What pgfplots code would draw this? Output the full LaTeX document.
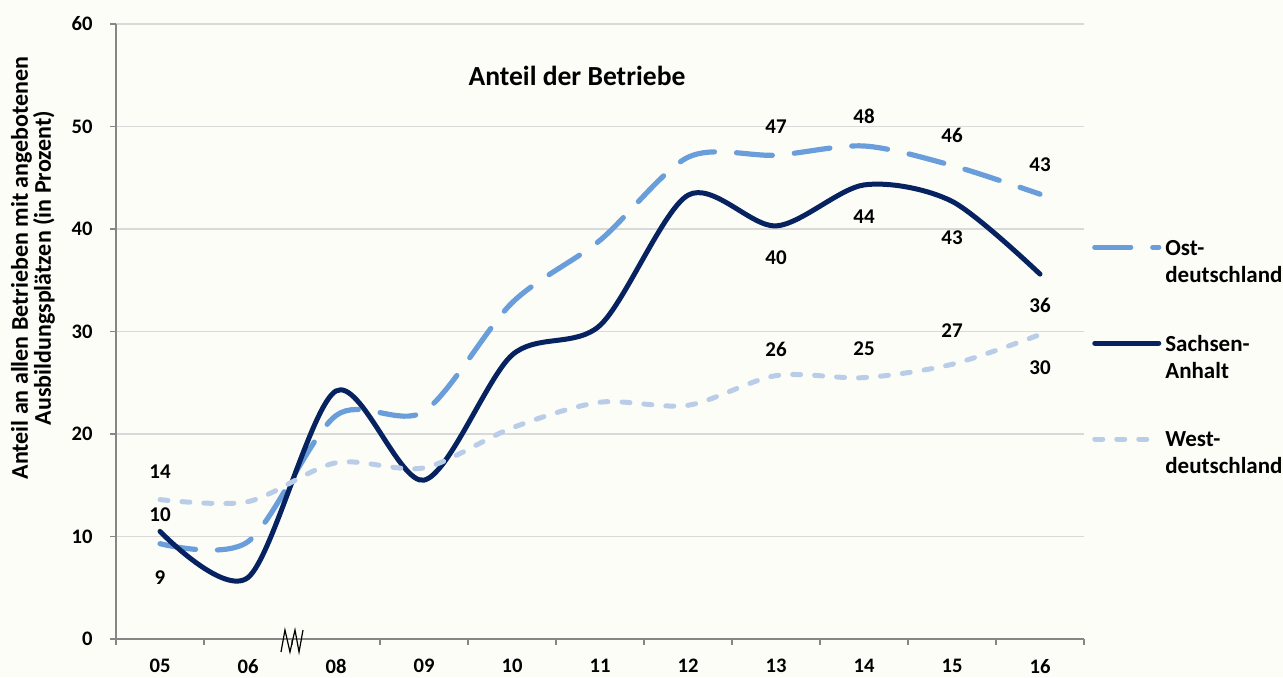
\documentclass[border=0pt]{standalone}
\usepackage{pgfplots}
\pgfplotsset{compat=1.18}
\usepackage{fontspec}
\setmainfont{Carlito}
\definecolor{bg}{RGB}{253,253,248}
\definecolor{ost}{RGB}{106,158,218}
\definecolor{sa}{RGB}{6,34,96}
\definecolor{west}{RGB}{186,205,232}
\definecolor{gridc}{RGB}{217,217,217}
\definecolor{axc}{RGB}{134,134,134}
\begin{document}
\begin{tikzpicture}
\fill[bg] (0,0) rectangle (641.5pt,338.5pt);
\begin{axis}[
  at={(58pt,19pt)}, anchor=south west,
  scale only axis, width=484pt, height=307.5pt,
  xmin=-0.5, xmax=10.5, ymin=0, ymax=60,
  axis lines*=left,
  axis line style={axc, line width=0.8pt},
  xtick={0,...,10}, xticklabels={05,06,08,09,10,11,12,13,14,15,16},
  minor xtick={-0.5,0.5,...,10.5},
  ytick={0,10,...,60}, yticklabels={0,10,20,30,40,50,60},
  tick align=outside,
  major x tick style={draw=none},
  minor tick length=3pt, major tick length=3pt,
  tick style={axc, line width=0.8pt},
  ymajorgrids, grid style={gridc, line width=0.8pt},
  ticklabel style={font=\fontsize{10.3}{12}\selectfont\bfseries},
  xticklabel style={yshift=-3.5pt},
  every y tick label/.append style={anchor=east, inner sep=0pt, xshift=-8.5pt},
  clip=false,
  legend image code/.code={\draw[#1] (0pt,0pt) -- (32pt,0pt);},
  legend style={at={(rel axis cs:1.008,0.662)}, anchor=north west, draw=none, fill=none,
    font=\fontsize{11.5}{13.5}\selectfont\bfseries, cells={anchor=west}, row sep=33pt,
    inner sep=0pt},
]
\addplot[ost, line width=2.6pt, smooth, line cap=round, dash pattern=on 18pt off 11pt]
  coordinates {(0,9.3) (1,9.5) (2,21.8) (3,22.2) (4,32.8) (5,38.9) (6,47.0) (7,47.2) (8,48.1) (9,46.2) (10,43.4)};
\addlegendentry{\vtop{\hbox{\strut Ost-}\hbox{\strut deutschland}}}
\addplot[sa, line width=2.5pt, smooth, line cap=round]
  coordinates {(0,10.5) (1,6.0) (2,24.2) (3,15.5) (4,27.7) (5,30.6) (6,43.3) (7,40.3) (8,44.3) (9,42.7) (10,35.6)};
\addlegendentry{\vtop{\hbox{\strut Sachsen-}\hbox{\strut Anhalt}}}
\addplot[west, line width=2.5pt, smooth, line cap=round, dash pattern=on 4pt off 7pt]
  coordinates {(0,13.6) (1,13.4) (2,17.2) (3,16.7) (4,20.6) (5,23.1) (6,22.8) (7,25.7) (8,25.5) (9,26.8) (10,29.7)};
\addlegendentry{\vtop{\hbox{\strut West-}\hbox{\strut deutschland}}}
\begin{scope}[font=\fontsize{10.5}{12}\selectfont\bfseries]
\node at (axis cs:0,16.3) {14};
\node at (axis cs:0,12.1) {10};
\node at (axis cs:0,6.0) {9};
\node at (axis cs:7,50.0) {47};
\node at (axis cs:8,51.0) {48};
\node at (axis cs:9,49.1) {46};
\node at (axis cs:10,46.3) {43};
\node at (axis cs:7,37.2) {40};
\node at (axis cs:8,41.2) {44};
\node at (axis cs:9,39.2) {43};
\node at (axis cs:10,32.5) {36};
\node at (axis cs:7,28.3) {26};
\node at (axis cs:8,28.3) {25};
\node at (axis cs:9,30.1) {27};
\node at (axis cs:10,26.5) {30};
\end{scope}
\draw[black, line width=0.6pt] (axis cs:1.375,-1.27) -- (axis cs:1.42,0.88) -- (axis cs:1.477,-1.27) -- (axis cs:1.534,0.88) -- (axis cs:1.58,-1.27) -- (axis cs:1.625,0.88);
\end{axis}
\node[font=\fontsize{13.8}{15}\selectfont\bfseries] at (288.5pt,300.5pt) {Anteil der Betriebe};
\node[rotate=90, align=center, font=\fontsize{12}{11.5}\selectfont\bfseries] at (16.5pt,204.5pt)
  {Anteil  an allen Betrieben mit angebotenen\\Ausbildungsplätzen  (in Prozent)};
\pgfresetboundingbox
\useasboundingbox (0,0) rectangle (641.5pt,338.5pt);
\end{tikzpicture}
\end{document}
